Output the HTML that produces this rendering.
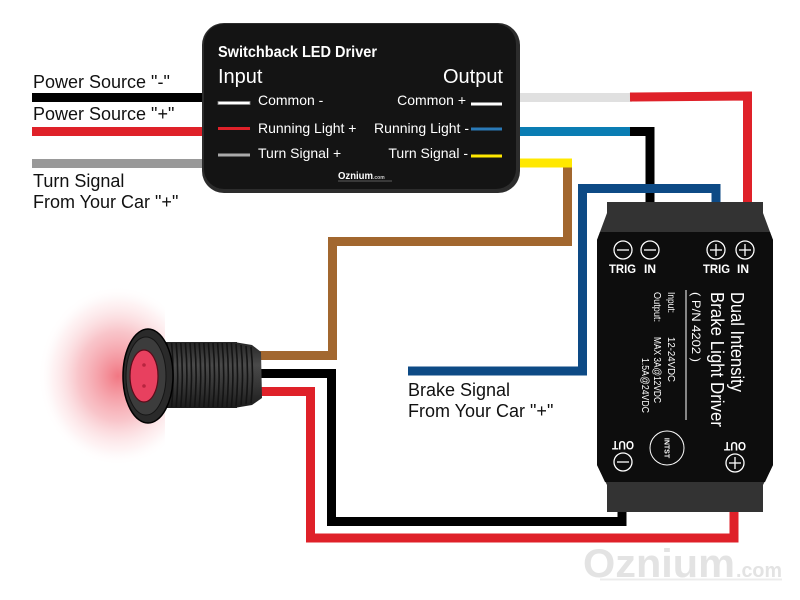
<!DOCTYPE html>
<html>
<head>
<meta charset="utf-8">
<style>
html,body{margin:0;padding:0;background:#fff;}
svg{display:block;}
text{font-family:"Liberation Sans",Arial,sans-serif;}
</style>
</head>
<body>
<svg width="800" height="600" viewBox="0 0 800 600" xmlns="http://www.w3.org/2000/svg">
<defs>
  <radialGradient id="glow" cx="0" cy="0" r="1" gradientUnits="userSpaceOnUse" gradientTransform="translate(118,376) scale(80,90)">
    <stop offset="0" stop-color="rgb(236,66,82)" stop-opacity="0.72"/>
    <stop offset="0.5" stop-color="rgb(240,118,130)" stop-opacity="0.42"/>
    <stop offset="0.82" stop-color="rgb(248,180,186)" stop-opacity="0.16"/>
    <stop offset="1" stop-color="rgb(255,255,255)" stop-opacity="0"/>
  </radialGradient>
  <linearGradient id="thread" x1="0" y1="0" x2="0" y2="1">
    <stop offset="0" stop-color="#262626"/>
    <stop offset="0.35" stop-color="#4a4a4a"/>
    <stop offset="0.7" stop-color="#333"/>
    <stop offset="1" stop-color="#1c1c1c"/>
  </linearGradient>
</defs>

<!-- Left input wires -->
<line x1="32" y1="97.5" x2="215" y2="97.5" stroke="#000" stroke-width="9"/>
<line x1="32" y1="131.5" x2="215" y2="131.5" stroke="#df2129" stroke-width="9"/>
<line x1="32" y1="163.5" x2="215" y2="163.5" stroke="#999" stroke-width="9"/>

<!-- Output wires -->
<line x1="510" y1="97.5" x2="632" y2="97.5" stroke="#e0e0e0" stroke-width="9"/>
<polyline points="630,97 747.5,96 747.5,205" fill="none" stroke="#df2129" stroke-width="9" stroke-linejoin="miter"/>
<line x1="510" y1="131.5" x2="632" y2="131.5" stroke="#0a7db3" stroke-width="9"/>
<polyline points="630,131.5 650,131.5 650,205" fill="none" stroke="#000" stroke-width="9"/>

<!-- Brown wire (turn signal to LED) -->
<polyline points="567.5,163 567.5,241.5 332.5,241.5 332.5,355.5 245,355.5" fill="none" stroke="#a2672f" stroke-width="9"/>
<line x1="510" y1="163" x2="572" y2="163" stroke="#ffe800" stroke-width="9"/>

<!-- Dark blue brake signal -->
<polyline points="408,371 582.5,371 582.5,188.5 716,188.5 716,205" fill="none" stroke="#0d4a85" stroke-width="9"/>

<!-- LED black and red wires -->
<polyline points="245,373.5 331.5,373.5 331.5,521.5 622,521.5 622,508" fill="none" stroke="#000" stroke-width="9"/>
<polyline points="245,391.5 310.5,391.5 310.5,538 734,538 734,508" fill="none" stroke="#df2129" stroke-width="9"/>

<!-- Switchback LED Driver box -->
<rect x="202" y="23" width="318" height="170" rx="22" ry="22" fill="#2c2c2c"/>
<rect x="204" y="24" width="312" height="165" rx="20" ry="20" fill="#141414"/>
<text x="218" y="57" font-size="16" font-weight="bold" fill="#fff" textLength="159" lengthAdjust="spacingAndGlyphs">Switchback LED Driver</text>
<text x="218" y="83" font-size="20" fill="#fff">Input</text>
<text x="503" y="83" font-size="20" fill="#fff" text-anchor="end">Output</text>

<rect x="218" y="101.5" width="32" height="3" fill="#fff" stroke="#888" stroke-width="0.8"/>
<text x="258" y="105" font-size="14" fill="#fff">Common -</text>
<line x1="218" y1="128.5" x2="250" y2="128.5" stroke="#df2129" stroke-width="3"/>
<text x="258" y="133" font-size="14" fill="#fff">Running Light +</text>
<line x1="218" y1="155" x2="250" y2="155" stroke="#aaa" stroke-width="3"/>
<text x="258" y="158" font-size="14" fill="#fff">Turn Signal +</text>

<text x="466" y="105" font-size="14" fill="#fff" text-anchor="end">Common +</text>
<line x1="471" y1="104" x2="502" y2="104" stroke="#fff" stroke-width="3"/>
<text x="469" y="133" font-size="14" fill="#fff" text-anchor="end">Running Light -</text>
<line x1="471" y1="129" x2="502" y2="129" stroke="#2a7ab8" stroke-width="3"/>
<text x="468" y="158" font-size="14" fill="#fff" text-anchor="end">Turn Signal -</text>
<line x1="471" y1="156" x2="502" y2="156" stroke="#ffe800" stroke-width="3"/>

<text x="338" y="179" font-size="10" font-weight="bold" fill="#fff" textLength="35" lengthAdjust="spacingAndGlyphs">Oznium</text>
<text x="373" y="179" font-size="5" font-weight="bold" fill="#ccc">.com</text>
<line x1="338" y1="181" x2="392" y2="181" stroke="#777" stroke-width="0.8"/>

<!-- Left labels -->
<text x="33" y="88" font-size="18" fill="#111">Power Source "-"</text>
<text x="33" y="120" font-size="18" fill="#111">Power Source "+"</text>
<text x="33" y="187" font-size="18" fill="#111">Turn Signal</text>
<text x="33" y="208" font-size="18" fill="#111">From Your Car "+"</text>

<!-- Brake labels -->
<text x="408" y="396" font-size="18" fill="#111">Brake Signal</text>
<text x="408" y="417" font-size="18" fill="#111">From Your Car "+"</text>

<!-- LED -->
<rect x="30" y="284" width="135" height="184" fill="url(#glow)"/>
<rect x="163" y="342" width="74" height="66" fill="url(#thread)"/>
<polygon points="234,342 252,345 261,352 262,398 252,405 234,408" fill="url(#thread)"/>
<g stroke="#141414" stroke-width="1.6" fill="none">
  <path d="M167,343 Q170,375 167,407"/>
  <path d="M171.6,343 Q174.6,375 171.6,407"/>
  <path d="M176.2,343 Q179.2,375 176.2,407"/>
  <path d="M180.8,343 Q183.8,375 180.8,407"/>
  <path d="M185.4,343 Q188.4,375 185.4,407"/>
  <path d="M190,343 Q193,375 190,407"/>
  <path d="M194.6,343 Q197.6,375 194.6,407"/>
  <path d="M199.2,343 Q202.2,375 199.2,407"/>
  <path d="M203.8,343 Q206.8,375 203.8,407"/>
  <path d="M208.4,343 Q211.4,375 208.4,407"/>
  <path d="M213,343 Q216,375 213,407"/>
  <path d="M217.6,343 Q220.6,375 217.6,407"/>
  <path d="M222.2,343 Q225.2,375 222.2,407"/>
  <path d="M226.8,343 Q229.8,375 226.8,407"/>
  <path d="M231.4,343 Q234.4,375 231.4,407"/>
  <path d="M236,344 Q239,375 236,406"/>
  <path d="M241,345 Q244,375 241,405"/>
  <path d="M246,346 Q249,375 246,404"/>
  <path d="M251,347 Q254,375 251,403"/>
</g>
<ellipse cx="148" cy="376" rx="25" ry="47" fill="#2a2a2a" stroke="#000" stroke-width="1.5"/>
<ellipse cx="146" cy="376" rx="20" ry="39" fill="#3c3c3c" stroke="#151515" stroke-width="1"/>
<ellipse cx="144" cy="376" rx="14" ry="26" fill="#e8405f" stroke="#5a0c1a" stroke-width="1.2"/>
<circle cx="144" cy="365" r="1.8" fill="#b8243f"/>
<circle cx="144" cy="386" r="1.8" fill="#b8243f"/>

<!-- Brake light driver -->
<polygon points="607,202 763,202 763,213 773,240 773,465 763,485 763,512 607,512 607,485 597,465 597,240 607,213" fill="#333"/>
<polygon points="600,232 770,232 773,240 773,465 765,482 605,482 597,465 597,240" fill="#0d0d0d"/>

<g stroke="#fff" stroke-width="1.3" fill="none">
  <circle cx="623" cy="250" r="9"/>
  <line x1="617" y1="250" x2="629" y2="250"/>
  <circle cx="650" cy="250" r="9"/>
  <line x1="644" y1="250" x2="656" y2="250"/>
  <circle cx="716" cy="250" r="9"/>
  <line x1="710" y1="250" x2="722" y2="250"/>
  <line x1="716" y1="244" x2="716" y2="256"/>
  <circle cx="745" cy="250" r="9"/>
  <line x1="739" y1="250" x2="751" y2="250"/>
  <line x1="745" y1="244" x2="745" y2="256"/>
  <circle cx="623" cy="462" r="9"/>
  <line x1="617" y1="462" x2="629" y2="462"/>
  <circle cx="735" cy="463" r="9"/>
  <line x1="729" y1="463" x2="741" y2="463"/>
  <line x1="735" y1="457" x2="735" y2="469"/>
  <circle cx="667" cy="448" r="17" stroke-width="1"/>
  <line x1="686" y1="290" x2="686" y2="420" stroke-width="1"/>
</g>
<g fill="#fff" font-size="12" font-weight="bold">
  <text x="609" y="273" textLength="27" lengthAdjust="spacingAndGlyphs">TRIG</text>
  <text x="644" y="273">IN</text>
  <text x="703" y="273" textLength="27" lengthAdjust="spacingAndGlyphs">TRIG</text>
  <text x="737" y="273">IN</text>
  <text transform="translate(623,441) rotate(180)" text-anchor="middle" textLength="22" lengthAdjust="spacingAndGlyphs">OUT</text>
  <text transform="translate(735,442) rotate(180)" text-anchor="middle" textLength="22" lengthAdjust="spacingAndGlyphs">OUT</text>
</g>
<g fill="#fff">
  <text transform="translate(731,292) rotate(90)" font-size="18" textLength="100" lengthAdjust="spacingAndGlyphs">Dual Intensity</text>
  <text transform="translate(711,292) rotate(90)" font-size="18" textLength="135" lengthAdjust="spacingAndGlyphs">Brake Light Driver</text>
  <text transform="translate(692,292) rotate(90)" font-size="12" textLength="70" lengthAdjust="spacingAndGlyphs">( P/N  4202 )</text>
  <text transform="translate(668,292) rotate(90)" font-size="10" textLength="21" lengthAdjust="spacingAndGlyphs">Input:</text>
  <text transform="translate(668,337) rotate(90)" font-size="10" textLength="45" lengthAdjust="spacingAndGlyphs">12-24VDC</text>
  <text transform="translate(654,292) rotate(90)" font-size="10" textLength="30" lengthAdjust="spacingAndGlyphs">Output:</text>
  <text transform="translate(654,337) rotate(90)" font-size="10" textLength="66" lengthAdjust="spacingAndGlyphs">MAX 3A@12VDC</text>
  <text transform="translate(642,358) rotate(90)" font-size="10" textLength="55" lengthAdjust="spacingAndGlyphs">1.5A@24VDC</text>
  <text transform="translate(664.5,448) rotate(90)" font-size="7" font-weight="bold" text-anchor="middle">INTST</text>
</g>

<!-- Oznium logo -->
<text x="583" y="577" font-size="40" font-weight="bold" fill="#e3e3e3" textLength="152" lengthAdjust="spacingAndGlyphs">Oznium</text>
<text x="736" y="577" font-size="20" font-weight="bold" fill="#e3e3e3" textLength="46" lengthAdjust="spacingAndGlyphs">.com</text>
<line x1="600" y1="579.5" x2="782" y2="579.5" stroke="#ececec" stroke-width="2"/>
</svg>
</body>
</html>
